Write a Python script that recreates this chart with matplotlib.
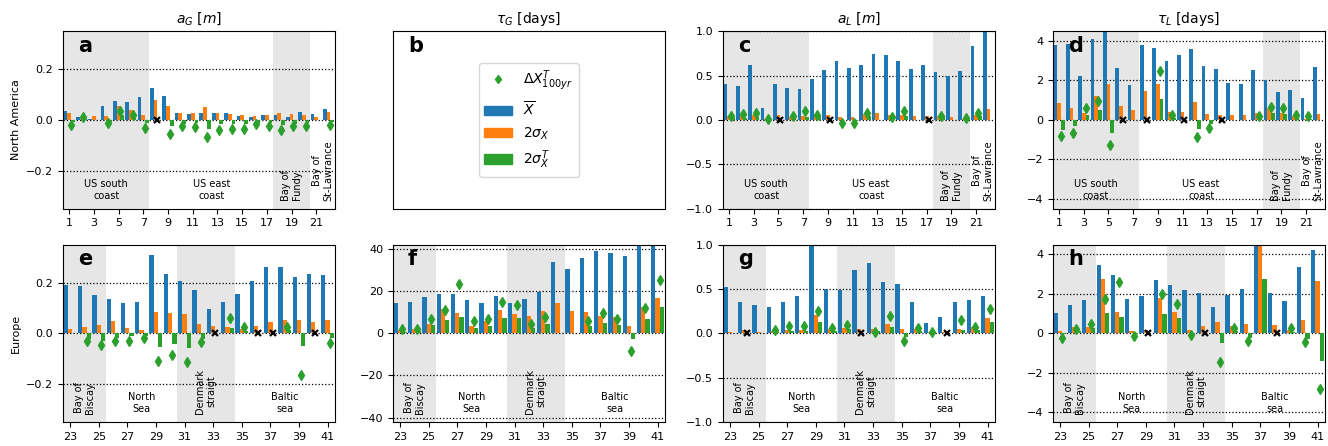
import numpy as np
import matplotlib.pyplot as plt
from matplotlib.lines import Line2D
from matplotlib.patches import Patch
from matplotlib.transforms import blended_transform_factory

nan = np.nan

# stations
st_na = np.arange(1, 23)
st_eu = np.arange(23, 42)

# North America: a_G
aG_na_mean = [0.034, 0.010, 0.005, 0.054, 0.073, 0.069, 0.089, 0.124, 0.093, 0.026, 0.022,
              0.029, 0.026, 0.029, 0.014, 0.010, 0.018, 0.018, 0.010, 0.030, 0.022, 0.042]
aG_na_sig = [0.026, 0.005, 0.014, 0.014, 0.054, 0.038, 0.018, 0.077, 0.054, 0.026, 0.026,
             0.050, 0.026, 0.022, 0.018, 0.014, 0.018, 0.026, 0.022, 0.018, 0.010, 0.030]
aG_na_sigT = [-0.010, 0.005, 0.0, -0.008, 0.018, 0.010, -0.012, nan, -0.024, -0.016, -0.012,
              -0.035, -0.016, -0.016, -0.016, -0.012, -0.012, -0.020, -0.016, -0.012, 0.0, -0.010]
aG_na_delta = [-0.021, 0.012, nan, -0.012, 0.034, 0.021, -0.031, nan, -0.054, -0.024, -0.029,
               -0.067, -0.038, -0.035, -0.035, -0.016, -0.024, -0.038, -0.024, -0.024, nan, -0.022]
aG_na_miss = [8]

# North America: a_L
aL_na_mean = [0.40, 0.38, 0.62, 0.135, 0.41, 0.36, 0.35, 0.46, 0.56, 0.66, 0.59,
              0.62, 0.74, 0.73, 0.66, 0.57, 0.62, 0.54, 0.50, 0.55, 0.83, 1.05]
aL_na_sig = [0.045, 0.040, 0.056, 0.015, 0.056, 0.035, 0.040, 0.065, 0.056, 0.030, 0.030,
             0.065, 0.080, 0.056, 0.056, 0.045, 0.045, 0.040, 0.030, 0.010, 0.056, 0.120]
aL_na_sigT = [0.026, 0.026, 0.030, 0.010, nan, 0.020, 0.030, 0.040, nan, 0.0, -0.010,
              0.040, 0.0, 0.030, 0.040, 0.0, nan, 0.030, 0.0, 0.010, 0.040, 0.0]
aL_na_delta = [0.045, 0.068, 0.083, 0.015, nan, 0.045, 0.098, 0.053, nan, -0.030, -0.030,
               0.083, nan, 0.034, 0.098, nan, nan, 0.045, nan, 0.023, 0.083, nan]
aL_na_miss = [5, 9, 17]

# North America: tau_L
tL_na_mean = [3.78, 3.87, 2.21, 4.08, 4.60, 2.62, 1.76, 3.78, 3.63, 2.97, 3.27,
              3.58, 2.72, 2.57, 1.86, 1.81, 2.51, 2.01, 1.40, 1.50, 1.10, 2.67]
tL_na_sig = [0.84, 0.59, 0.34, 1.20, 1.81, 0.69, 0.49, 1.45, 1.81, 0.39, 0.39,
             0.89, 0.29, 0.24, 0.24, 0.24, 0.34, 0.59, 0.34, 0.19, 0.05, 0.29]
tL_na_sigT = [-0.51, -0.29, 0.24, 0.49, -0.66, nan, 0.0, nan, 1.05, 0.12, nan,
              -0.46, -0.19, nan, 0.0, 0.0, 0.08, 0.34, 0.30, 0.13, 0.05, 0.0]
tL_na_delta = [-0.83, -0.66, 0.61, 0.95, -1.25, nan, nan, nan, 2.50, 0.27, nan,
               -0.89, -0.42, nan, nan, nan, 0.22, 0.66, 0.59, 0.27, 0.19, nan]
tL_na_miss = [6, 8, 11, 14]

# Europe: a_G
aG_eu_mean = [0.190, 0.187, 0.152, 0.136, 0.120, 0.124, 0.308, 0.234, 0.207, 0.171,
              0.097, 0.124, 0.156, 0.207, 0.261, 0.261, 0.221, 0.234, 0.230]
aG_eu_sig = [0.018, 0.026, 0.034, 0.050, 0.022, 0.014, 0.085, 0.081, 0.077, 0.038,
             0.030, 0.026, 0.018, 0.030, 0.046, 0.054, 0.054, 0.046, 0.054]
aG_eu_sigT = [0.0, -0.021, -0.029, -0.017, -0.009, -0.009, -0.056, -0.044, -0.060, -0.021,
              nan, 0.022, 0.010, nan, nan, 0.014, -0.049, nan, -0.017]
aG_eu_delta = [nan, -0.031, -0.047, -0.031, -0.029, -0.020, -0.110, -0.086, -0.115, -0.034,
               nan, 0.060, 0.024, nan, nan, 0.025, -0.164, nan, -0.037]
aG_eu_miss = [33, 36, 37, 40]

# Europe: tau_G
tG_eu_mean = [14.4, 14.8, 17.2, 18.6, 18.6, 15.8, 14.4, 17.7, 14.4, 16.3,
              19.6, 33.8, 30.5, 35.7, 39.0, 38.1, 36.6, 43.5, 44.0]
tG_eu_sig = [1.4, 2.1, 4.4, 11.5, 9.6, 3.5, 5.8, 11.1, 9.2, 8.2,
             10.6, 14.4, 10.6, 10.1, 8.2, 7.7, 3.5, 12.5, 16.7]
tG_eu_sigT = [0.5, 0.9, 3.9, 6.3, 7.7, 2.5, 3.5, 7.3, 7.3, 2.5,
              4.4, nan, nan, 3.5, 4.9, 3.9, -2.7, 6.8, 12.5]
tG_eu_delta = [2.1, 2.1, 6.8, 11.1, 23.2, 5.8, 6.8, 14.8, 13.4, 4.3,
               7.6, nan, nan, 5.8, 9.6, 6.8, -8.2, 12.0, 25.4]
tG_eu_miss = []

# Europe: a_L
aL_eu_mean = [0.52, 0.35, 0.32, 0.30, 0.35, 0.42, 1.05, 0.50, 0.49, 0.71,
              0.79, 0.58, 0.55, 0.35, 0.12, 0.18, 0.35, 0.37, 0.42]
aL_eu_sig = [0.015, 0.037, 0.015, 0.026, 0.037, 0.037, 0.206, 0.049, 0.060, 0.049,
             0.049, 0.105, 0.049, 0.049, 0.015, 0.015, 0.049, 0.071, 0.172]
aL_eu_sigT = [0.0, nan, 0.0, 0.015, 0.026, 0.026, 0.127, 0.026, 0.049, nan,
              0.026, 0.071, -0.040, 0.026, 0.005, nan, 0.037, 0.037, 0.127]
aL_eu_delta = [nan, nan, nan, 0.034, 0.079, 0.082, 0.255, 0.064, 0.090, nan,
               0.015, 0.200, -0.090, 0.060, 0.015, nan, 0.154, 0.075, 0.270]
aL_eu_miss = [24, 32, 38]

# Europe: tau_L
tL_eu_mean = [1.03, 1.43, 1.69, 3.46, 2.95, 1.74, 1.89, 2.70, 2.45, 2.19,
              2.04, 1.33, 1.94, 2.24, 4.70, 2.04, 1.64, 3.36, 4.22]
tL_eu_sig = [0.12, 0.32, 0.32, 2.75, 1.08, 0.12, 0.17, 1.79, 1.08, 0.17,
             0.37, 0.57, 0.37, 0.47, 4.60, 0.42, 0.17, 0.67, 2.65]
tL_eu_sigT = [-0.05, 0.12, 0.27, 1.03, 0.83, -0.05, nan, 0.98, 0.78, -0.05,
              nan, -0.49, 0.12, -0.24, 2.75, nan, 0.07, -0.29, -1.40]
tL_eu_delta = [-0.25, 0.20, 0.49, 1.74, 2.58, -0.15, nan, 1.99, 1.48, -0.10,
               nan, -1.47, 0.27, -0.37, nan, nan, 0.25, -0.44, -2.82]
tL_eu_miss = [29, 33, 38]

regions_na = [(0.5, 7.5, 'US south\ncoast', True, 0),
              (7.5, 17.5, 'US east\ncoast', False, 0),
              (17.5, 20.5, 'Bay of\nFundy', True, 90),
              (20.5, 22.5, 'Bay of\nSt-Lawrance', False, 90)]
regions_eu = [(22.5, 25.5, 'Bay of\nBiscay', True, 90),
              (25.5, 30.5, 'North\nSea', False, 0),
              (30.5, 34.5, 'Denmark\nstraigt', True, 90),
              (34.5, 41.5, 'Baltic\nsea', False, 0)]

titles = [r'$a_G$ [$m$]', r'$\tau_G$ [days]', r'$a_L$ [$m$]', r'$\tau_L$ [days]']

w = 0.3


def panel(ax, st, mean, sig, sigT, delta, miss, regions, ylim, yticks, letter):
    st = np.asarray(st)
    for x0, x1, name, shade, rot in regions:
        if shade:
            ax.axvspan(x0, x1, color='0.9', lw=0, zorder=0)
        tr = blended_transform_factory(ax.transData, ax.transAxes)
        ax.text((x0 + x1) / 2, 0.045, name, transform=tr, ha='center', va='bottom',
                rotation=rot, fontsize=7, multialignment='center', zorder=3)
    for yt in yticks:
        ax.axhline(yt, color='k', ls=':', lw=0.9, zorder=0.5)
    ax.bar(st - w, mean, w, color='C0', zorder=1)
    ax.bar(st, sig, w, color='C1', zorder=1)
    ax.bar(st + w, np.nan_to_num(sigT), w, color='C2', zorder=1)
    ax.plot(st + 0.15, delta, 'd', color='C2', ms=5, ls='none', zorder=2)
    if miss:
        ax.plot(np.array(miss) + 0.15, np.zeros(len(miss)), 'x', color='k', ms=4.5,
                mew=1.6, zorder=2.5)
    ax.set_xlim(st[0] - 0.5, st[-1] + 0.5)
    ax.set_xticks(st[::2])
    ax.set_ylim(-ylim, ylim)
    ax.set_yticks(yticks)
    ax.tick_params(labelsize=8)
    ax.text(0.055, 0.885, letter, transform=ax.transAxes, fontsize=15,
            fontweight='bold', va='baseline', ha='left', zorder=4)


fig, axes = plt.subplots(2, 4, figsize=(13.28, 4.46), dpi=100)
fig.subplots_adjust(left=0.0474, right=0.9975, top=0.930, bottom=0.054,
                    wspace=0.214, hspace=0.203)

panel(axes[0, 0], st_na, aG_na_mean, aG_na_sig, aG_na_sigT, aG_na_delta, aG_na_miss,
      regions_na, 0.35, [-0.2, 0.0, 0.2], 'a')
panel(axes[0, 2], st_na, aL_na_mean, aL_na_sig, aL_na_sigT, aL_na_delta, aL_na_miss,
      regions_na, 1.0, [-1.0, -0.5, 0.0, 0.5, 1.0], 'c')
panel(axes[0, 3], st_na, tL_na_mean, tL_na_sig, tL_na_sigT, tL_na_delta, tL_na_miss,
      regions_na, 4.5, [-4, -2, 0, 2, 4], 'd')
panel(axes[1, 0], st_eu, aG_eu_mean, aG_eu_sig, aG_eu_sigT, aG_eu_delta, aG_eu_miss,
      regions_eu, 0.35, [-0.2, 0.0, 0.2], 'e')
panel(axes[1, 1], st_eu, tG_eu_mean, tG_eu_sig, tG_eu_sigT, tG_eu_delta, tG_eu_miss,
      regions_eu, 42, [-40, -20, 0, 20, 40], 'f')
panel(axes[1, 2], st_eu, aL_eu_mean, aL_eu_sig, aL_eu_sigT, aL_eu_delta, aL_eu_miss,
      regions_eu, 1.0, [-1.0, -0.5, 0.0, 0.5, 1.0], 'g')
panel(axes[1, 3], st_eu, tL_eu_mean, tL_eu_sig, tL_eu_sigT, tL_eu_delta, tL_eu_miss,
      regions_eu, 4.5, [-4, -2, 0, 2, 4], 'h')

# panel b: legend only
axb = axes[0, 1]
axb.set_xticks([])
axb.set_yticks([])
axb.text(0.055, 0.885, 'b', transform=axb.transAxes, fontsize=15,
         fontweight='bold', va='baseline', ha='left')
handles = [Line2D([], [], marker='d', color='C2', ls='none', ms=4.5),
           Patch(color='C0'), Patch(color='C1'), Patch(color='C2')]
labels = [r'$\Delta X^T_{100yr}$', r'$\overline{X}$', r'$2\sigma_X$', r'$2\sigma_X^T$']
axb.legend(handles, labels, loc='center', fontsize=10)

for j, t in enumerate(titles):
    axes[0, j].set_title(t, fontsize=10)

axes[0, 0].set_ylabel('North America', fontsize=8)
axes[1, 0].set_ylabel('Europe', fontsize=8)

fig.savefig('out.png', dpi=100)
